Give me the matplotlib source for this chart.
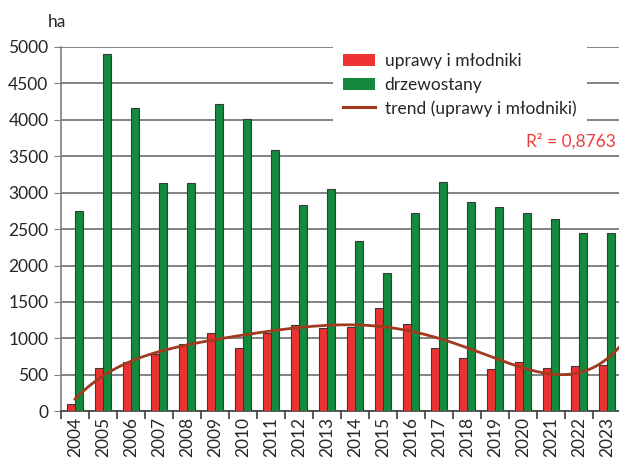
import numpy as np
import matplotlib
matplotlib.use("Agg")
import matplotlib.pyplot as plt
from matplotlib.patches import Patch
from matplotlib.lines import Line2D

years = [str(y) for y in range(2004, 2024)]
uprawy = [105, 595, 677, 787, 920, 1075, 874, 1075, 1190, 1140,
          1162, 1419, 1195, 870, 737, 585, 673, 599, 622, 636]
drzewostany = [2750, 4904, 4166, 3136, 3127, 4212, 4015, 3585, 2834, 3049,
               2344, 1895, 2720, 3146, 2875, 2806, 2728, 2637, 2445, 2445]

FS = 12.5
plt.rcParams['font.family'] = ['Lato', 'DejaVu Sans']
fig = plt.figure(figsize=(6.19, 4.63), dpi=100)
ax = fig.add_axes([61/619, 0.1117, 1 - 61/619, 0.8985 - 0.1117])

x = np.arange(len(years))
w = 0.286
ax.bar(x - w/2, uprawy, w, color='#ee3131', edgecolor='#3a3a3a', linewidth=0.8, zorder=3)
ax.bar(x + w/2, drzewostany, w, color='#138a3d', edgecolor='#3a3a3a', linewidth=0.8, zorder=3)

c = np.polyfit(x + 1, uprawy, 5)
xs = np.linspace(0, 19.6, 300)
ax.plot(xs, np.polyval(c, xs + 1), color='#a23a1e', linewidth=2.0, zorder=4)

ax.set_xlim(-0.5, 19.43)
ax.set_ylim(0, 5000)
ax.set_yticks(range(0, 5001, 500))
ax.yaxis.grid(True, color='#7a7a7a', linewidth=1.3, zorder=0)
ax.set_axisbelow(True)
for s in ['top', 'right']:
    ax.spines[s].set_visible(False)
ax.spines['left'].set_color('#808080')
ax.spines['bottom'].set_color('#404040')
ax.spines['left'].set_linewidth(1.2)
ax.spines['bottom'].set_linewidth(1.2)

ax.set_xticks(np.arange(-0.5, 19.5, 1), minor=False)
ax.set_xticklabels([])
ax.set_xticks(x, minor=True)
ax.set_xticklabels(years, minor=True, rotation=90, fontsize=FS, color='#262626')
ax.tick_params(axis='x', which='major', length=6, color='#404040', width=1.2)
ax.tick_params(axis='x', which='minor', length=0, pad=4)
ax.tick_params(axis='y', length=5, color='#808080', labelsize=FS, labelcolor='#262626', pad=4)

fig.text(48/619, 1 - 22/463, 'ha', fontsize=FS, color='#262626', va='center')

handles = [Patch(facecolor='#ee3131', edgecolor='none'),
           Patch(facecolor='#138a3d', edgecolor='none'),
           Line2D([0], [0], color='#a23a1e', linewidth=2.2)]
labels = ['uprawy i młodniki', 'drzewostany', 'trend (uprawy i młodniki)']
leg = ax.legend(handles, labels, loc='upper left', bbox_to_anchor=(333/619, 1 - 43/463),
                bbox_transform=fig.transFigure, frameon=True, fontsize=FS,
                handlelength=1.8, handleheight=0.7, handletextpad=0.57,
                labelspacing=0.42, borderpad=0.6, borderaxespad=0)
leg.get_frame().set_facecolor('white')
leg.get_frame().set_edgecolor('none')
leg.get_frame().set_alpha(1)
leg.set_zorder(6)
for t in leg.get_texts():
    t.set_color('#262626')

ax.text(0.995, 0.74, 'R² = 0,8763', transform=ax.transAxes, ha='right', va='center',
        fontsize=FS, color='#f03c3c', zorder=7)

fig.savefig('out.png', dpi=100)
